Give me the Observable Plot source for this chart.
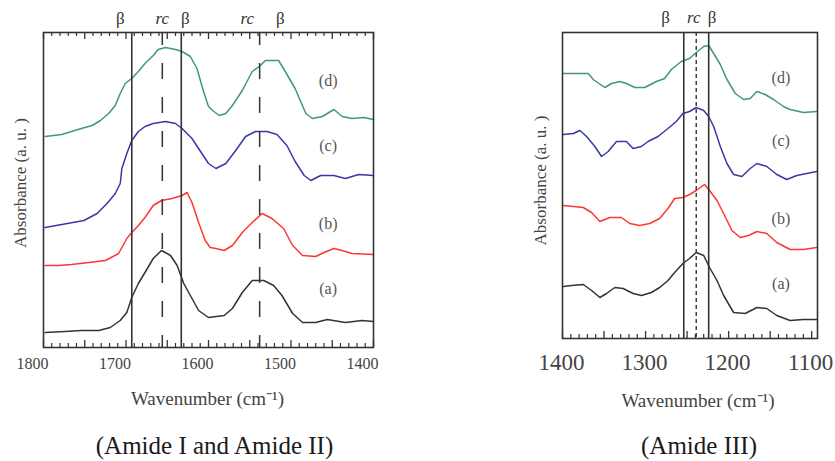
<!DOCTYPE html>
<html><head><meta charset="utf-8">
<script src="https://cdn.jsdelivr.net/npm/d3@7"></script>
<script src="https://cdn.jsdelivr.net/npm/@observablehq/plot@0.6"></script>
<style>
body{margin:0;background:#fff;}
#wrap{position:relative;width:835px;height:461px;overflow:hidden;}
#left{position:absolute;left:0;top:0;}
#right{position:absolute;left:420px;top:0;}
</style></head><body>
<div id="wrap"><div id="left"></div><div id="right"></div></div>
<script>
// ---------- data ----------
const seriesNames = ["(a)", "(b)", "(c)", "(d)"];
const seriesColors = ["#333333", "#ff3535", "#3838a8", "#3f9a70"];

// Amide I and Amide II: [wavenumber, absorbance (a.u., offset)]
const amideI_a = [[1798,0.15],[1774,0.16],[1754,0.17],[1733,0.17],[1719,0.20],[1707,0.27],[1699,0.35],[1693,0.50],[1685,0.64],[1677,0.75],[1667,0.89],[1657,0.97],[1646,0.92],[1638,0.82],[1630,0.64],[1622,0.52],[1612,0.37],[1600,0.30],[1581,0.32],[1571,0.39],[1559,0.55],[1547,0.67],[1533,0.67],[1521,0.62],[1511,0.52],[1498,0.34],[1486,0.25],[1470,0.25],[1456,0.28],[1434,0.25],[1414,0.27],[1400,0.26]];
const amideI_b = [[1798,0.82],[1782,0.82],[1766,0.83],[1745,0.85],[1725,0.87],[1709,0.94],[1699,1.09],[1693,1.15],[1685,1.22],[1677,1.30],[1667,1.42],[1657,1.47],[1644,1.49],[1632,1.52],[1626,1.55],[1620,1.45],[1612,1.25],[1604,1.07],[1598,1.00],[1591,0.99],[1581,0.97],[1571,1.02],[1559,1.15],[1547,1.25],[1535,1.34],[1523,1.29],[1509,1.19],[1498,1.02],[1486,0.92],[1470,0.91],[1460,0.95],[1448,0.99],[1438,0.97],[1426,0.94],[1400,0.93]];
const amideI_c = [[1798,1.20],[1771,1.24],[1751,1.27],[1735,1.34],[1723,1.44],[1713,1.54],[1707,1.64],[1705,1.79],[1699,1.94],[1693,2.07],[1685,2.16],[1677,2.21],[1667,2.24],[1652,2.26],[1640,2.24],[1632,2.19],[1620,2.09],[1608,1.94],[1600,1.84],[1591,1.79],[1579,1.84],[1567,1.97],[1555,2.11],[1543,2.16],[1529,2.16],[1517,2.13],[1505,2.02],[1495,1.86],[1484,1.72],[1476,1.67],[1464,1.72],[1448,1.72],[1434,1.69],[1418,1.73],[1400,1.72]];
const amideI_d = [[1798,2.11],[1778,2.13],[1766,2.16],[1754,2.19],[1741,2.22],[1731,2.27],[1721,2.34],[1713,2.42],[1707,2.54],[1701,2.64],[1693,2.69],[1685,2.76],[1677,2.84],[1667,2.92],[1661,2.98],[1652,3.00],[1640,2.98],[1632,2.96],[1622,2.91],[1614,2.79],[1606,2.56],[1600,2.41],[1595,2.37],[1587,2.32],[1579,2.34],[1571,2.42],[1559,2.57],[1547,2.76],[1537,2.82],[1531,2.87],[1525,2.87],[1515,2.87],[1507,2.76],[1495,2.59],[1482,2.34],[1474,2.29],[1462,2.31],[1448,2.38],[1438,2.31],[1426,2.29],[1412,2.30],[1400,2.28]];

// Amide III
const amideIII_a = [[1399,0.52],[1389,0.53],[1375,0.54],[1365,0.48],[1355,0.41],[1347,0.45],[1337,0.51],[1327,0.50],[1315,0.45],[1305,0.43],[1293,0.46],[1283,0.51],[1273,0.58],[1265,0.66],[1255,0.75],[1247,0.80],[1239,0.86],[1230,0.83],[1223,0.71],[1214,0.58],[1206,0.43],[1194,0.26],[1180,0.25],[1166,0.31],[1154,0.30],[1142,0.23],[1126,0.18],[1110,0.19],[1094,0.19]];
const amideIII_b = [[1399,1.33],[1387,1.32],[1375,1.31],[1365,1.26],[1355,1.17],[1343,1.21],[1329,1.21],[1319,1.15],[1307,1.13],[1295,1.15],[1283,1.20],[1273,1.30],[1265,1.40],[1255,1.41],[1247,1.44],[1239,1.48],[1229,1.54],[1223,1.48],[1214,1.38],[1206,1.25],[1196,1.08],[1186,1.01],[1176,1.03],[1166,1.07],[1154,1.05],[1142,0.96],[1126,0.89],[1110,0.89],[1094,0.91]];
const amideIII_c = [[1399,2.04],[1387,2.05],[1379,2.08],[1371,2.02],[1361,1.92],[1353,1.82],[1345,1.87],[1335,1.97],[1323,1.97],[1315,1.90],[1305,1.92],[1297,1.97],[1285,2.02],[1273,2.10],[1263,2.17],[1255,2.25],[1247,2.27],[1239,2.31],[1230,2.28],[1224,2.22],[1218,2.12],[1210,1.92],[1202,1.75],[1194,1.64],[1184,1.62],[1174,1.70],[1166,1.75],[1154,1.72],[1142,1.64],[1130,1.59],[1118,1.63],[1106,1.65],[1094,1.67]];
const amideIII_d = [[1399,2.65],[1369,2.65],[1363,2.59],[1349,2.51],[1341,2.55],[1331,2.57],[1323,2.55],[1313,2.51],[1301,2.51],[1287,2.57],[1277,2.60],[1269,2.69],[1257,2.77],[1247,2.80],[1239,2.86],[1230,2.92],[1224,2.93],[1218,2.85],[1210,2.74],[1202,2.59],[1192,2.45],[1182,2.39],[1174,2.40],[1166,2.47],[1156,2.44],[1146,2.39],[1134,2.32],[1126,2.29],[1110,2.26],[1094,2.27]];

// band assignments
const amideI_beta = [1693, 1633];
const amideI_rc = [1656, 1538];
const amideI_betaLabels = [1707, 1628, 1513];
const amideI_rcLabels = [1656, 1553];
const amideIII_beta = [1254, 1224];
const amideIII_rc = [1239];
const amideIII_betaLabels = [1276, 1220];
const amideIII_rcLabels = [1242];

// series label positions
const amideI_labelX = 1455, amideI_labelY = [0.59, 1.24, 2.02, 2.67];
const amideIII_labelX = 1137, amideIII_labelY = [0.55, 1.20, 1.98, 2.61];

// tick labels
const amideI_tickLabels = [1800, 1700, 1600, 1500, 1400];
const amideIII_tickLabels = [1400, 1300, 1200, 1100];

// ---------- drawing ----------
const FONT = "Liberation Serif";
const T = {fontFamily: FONT, textAnchor: "middle", lineAnchor: "middle"};
function panel(cfg) {
  const frameH = cfg.height - cfg.mt - cfg.mb;
  const [d0, d1] = cfg.domain;
  const hi = Math.max(d0, d1), lo = Math.min(d0, d1);
  const major = d3.range(Math.floor(hi / 50) * 50, lo - 0.1, -50);
  const minor = d3.range(Math.floor(hi / 10) * 10, lo - 0.1, -10).filter(v => v % 50 !== 0);
  const series = cfg.series.map((s, i) => s.map(([x, y]) => ({x, y, k: seriesNames[i]}))).flat();
  const marks = [
    Plot.lineY(series, {x: "x", y: "y", z: "k", stroke: d => d.k, strokeWidth: 1.5, curve: "linear"}),
    Plot.ruleX(cfg.beta, {x: d => d, stroke: "#333", strokeWidth: 1.6}),
    Plot.ruleX(cfg.rc, {x: d => d, stroke: "#333", strokeWidth: cfg.rcWidth, strokeDasharray: cfg.rcDash, strokeDashoffset: cfg.rcOffset}),
    Plot.tickX(minor, {x: d => d, insetTop: frameH - 4, stroke: "#333", strokeWidth: 1.2}),
    Plot.tickX(major, {x: d => d, insetTop: frameH - 7, stroke: "#333", strokeWidth: 1.3}),
  ];
  if (cfg.topTicks) {
    marks.push(Plot.tickX(minor, {x: d => d, insetBottom: frameH - 4, stroke: "#333", strokeWidth: 1.2}));
    marks.push(Plot.tickX(major, {x: d => d, insetBottom: frameH - 7, stroke: "#333", strokeWidth: 1.3}));
  }
  marks.push(
    Plot.frame({stroke: "#333", strokeWidth: 1.6}),
    Plot.text(cfg.tickLabels, {...T, x: d => d, text: d => String(d), frameAnchor: "bottom", dy: cfg.tickDy, dx: cfg.tickDx, fontSize: cfg.tickFont, fill: "#444"}),
    Plot.text(cfg.betaLabels, {...T, x: d => d, text: () => "β", frameAnchor: "top", dy: cfg.topDy, fontSize: 17, fill: "#333"}),
    Plot.text(cfg.rcLabels, {...T, x: d => d, text: () => "rc", frameAnchor: "top", dy: cfg.topDy, fontSize: 17, fill: "#333", fontStyle: "italic"}),
    Plot.text(seriesNames, {...T, x: () => cfg.labelX, y: (d, i) => cfg.labelY[i], text: d => d, fontSize: 16, fill: "#555"}),
    Plot.text(["Absorbance (a. u. )"], {...T, text: d => d, frameAnchor: "left", rotate: -90, dx: cfg.yTitleDx, dy: cfg.yTitleDy, fontSize: 17, fill: "#444"}),
    Plot.text(["Wavenumber (cm⁻¹)"], {...T, text: d => d, frameAnchor: "bottom", dx: cfg.xTitleDx, dy: cfg.xTitleDy, fontSize: 19, fill: "#444"}),
    Plot.text([cfg.caption], {...T, text: d => d, frameAnchor: "bottom", dx: cfg.captionDx, dy: cfg.captionDy, fontSize: 25, fill: "#1a1a1a"})
  );
  return Plot.plot({
    width: cfg.width, height: cfg.height,
    marginLeft: cfg.ml, marginRight: cfg.mr, marginTop: cfg.mt, marginBottom: cfg.mb,
    x: {domain: cfg.domain, axis: null},
    y: {domain: [0, cfg.yMax], axis: null},
    color: {domain: seriesNames, range: seriesColors},
    style: {fontFamily: FONT, background: "transparent", overflow: "visible"},
    marks
  });
}

document.getElementById("left").append(panel({
  series: [amideI_a, amideI_b, amideI_c, amideI_d],
  width: 420, height: 461, ml: 43, mr: 47, mt: 32, mb: 114,
  domain: [1800, 1400], yMax: 3.15,
  beta: amideI_beta, rc: amideI_rc, rcDash: "16,18", rcOffset: 3, rcWidth: 1.5,
  betaLabels: amideI_betaLabels, rcLabels: amideI_rcLabels, topDy: -14, topTicks: true,
  tickLabels: amideI_tickLabels, tickDy: 16, tickDx: -11, tickFont: 16,
  labelX: amideI_labelX, labelY: amideI_labelY,
  yTitleDx: -23, yTitleDy: -7,
  xTitleDx: -1, xTitleDy: 51,
  caption: "(Amide I and Amide II)", captionDx: 6, captionDy: 98
}));

document.getElementById("right").append(panel({
  series: [amideIII_a, amideIII_b, amideIII_c, amideIII_d],
  width: 415, height: 461, ml: 142, mr: 18, mt: 32, mb: 123,
  domain: [1400, 1093], yMax: 3.06,
  beta: amideIII_beta, rc: amideIII_rc, rcDash: "4,3", rcOffset: 0, rcWidth: 1.4,
  betaLabels: amideIII_betaLabels, rcLabels: amideIII_rcLabels, topDy: -15, topTicks: false,
  tickLabels: amideIII_tickLabels, tickDy: 24, tickDx: -1, tickFont: 23,
  labelX: amideIII_labelX, labelY: amideIII_labelY,
  yTitleDx: -22, yTitleDy: -5,
  xTitleDx: 8, xTitleDy: 62,
  caption: "(Amide III)", captionDx: 9, captionDy: 107
}));
</script>
</body></html>
